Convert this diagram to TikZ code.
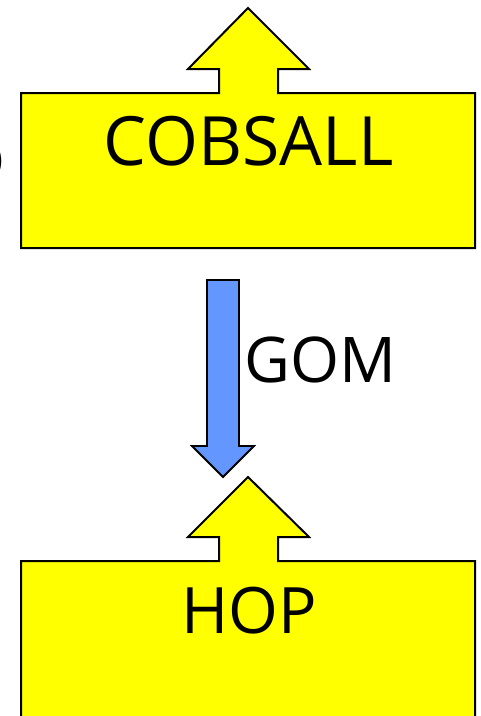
\documentclass[tikz,border=0pt]{standalone}
\usepackage{fontspec}
\setmainfont{Open Sans}
\definecolor{boxyellow}{RGB}{255,255,0}
\definecolor{flowblue}{RGB}{100,150,255}
\begin{document}
\begin{tikzpicture}[x=1pt,y=-1pt,
  upbox/.style={fill=boxyellow,draw=black,line width=2pt,line join=miter},
  downarrow/.style={fill=flowblue,draw=black,line width=1.8pt,line join=miter},
  bigtext/.style={font=\fontsize{68}{70}\selectfont,anchor=base,inner sep=0pt},
  midtext/.style={font=\fontsize{64}{66}\selectfont,anchor=base,inner sep=0pt},
  labeltext/.style={font=\fontsize{63}{66}\selectfont,anchor=base west,inner sep=0pt}]
\useasboundingbox (0,0) rectangle (481,716);

% upper box with its outgoing arrow on top
\draw[upbox] (21,248) -- (21,93) -- (219,93) -- (219,69) -- (188,69) -- (248,8)
  -- (309,69) -- (278,69) -- (278,93) -- (475,93) -- (475,248) -- cycle;
\node[bigtext] (cobsall) at (248.5,165) {COBSALL};

% clipped fragment at the left edge
\node[font=\fontsize{40}{40}\selectfont,anchor=base east,inner sep=0pt] (frag) at (4,172) {)};

% downward flow arrow
\draw[downarrow] (207,280) -- (239,280) -- (239,446) -- (254,446) -- (223,477)
  -- (192,446) -- (207,446) -- cycle;
\node[labeltext] (gom) at (244,382) {GOM};

% lower box with its outgoing arrow on top
\draw[upbox] (21,730) -- (21,561) -- (219,561) -- (219,537) -- (188,537) -- (248,477)
  -- (309,537) -- (278,537) -- (278,561) -- (475,561) -- (475,730) -- cycle;
\node[midtext] (hop) at (249,633) {HOP};
\end{tikzpicture}
\end{document}
